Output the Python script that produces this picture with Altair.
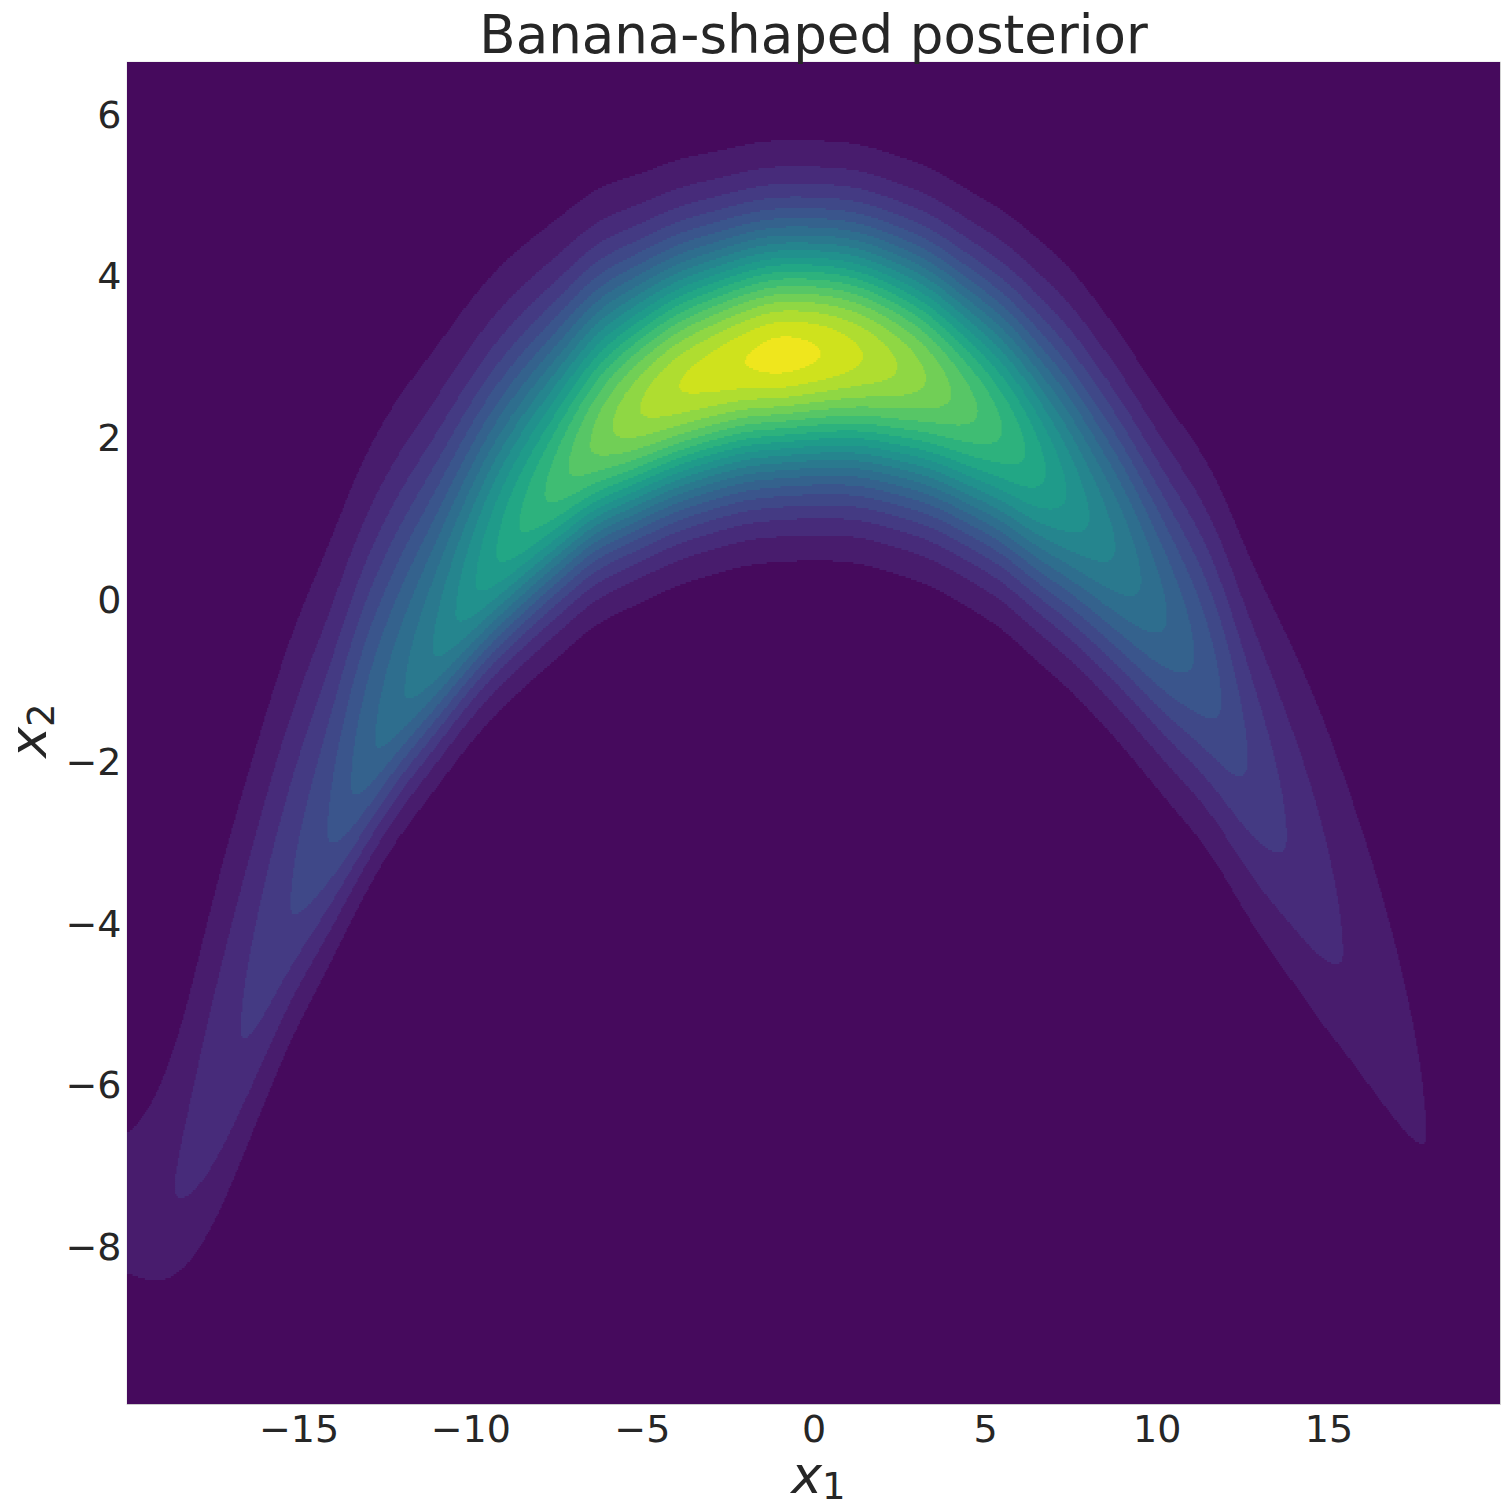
import numpy as np
import pandas as pd
import altair as alt

# ---- axis ranges ----
X1_MIN, X1_MAX = -20.0, 20.0
X2_MIN, X2_MAX = -9.92, 6.67
X_TICKS = [-15, -10, -5, 0, 5, 10, 15]
Y_TICKS = [-8, -6, -4, -2, 0, 2, 4, 6]
N_BANDS = 21  # filled contour bands (background + 20 levels)

# ---- apex of each filled band along the ridge ----
# level k: density there equals the k-th contour threshold
left_levels = [1.5, 1.75, 2, 3, 4, 5, 6, 7, 8, 9, 10, 11, 12, 13, 14, 15, 16, 17, 18, 19, 20]
left_x1 = [-20.5, -19.5, -18.5, -16.65, -15.2, -14.06, -13.5, -12.8, -11.9, -11.06, -10.4,
           -9.84, -9.26, -8.6, -7.8, -7.13, -6.5, -5.9, -5.1, -4.0, -1.95]
left_x2 = [-7.6, -7.7, -7.33, -5.25, -3.65, -2.82, -2.24, -1.74, -1.09, -0.6, -0.12,
           0.23, 0.6, 0.93, 1.35, 1.63, 2.0, 2.15, 2.37, 2.66, 2.99]
peak_x1, peak_x2, peak_level = -1.0, 3.05, 20.6
right_levels = [20, 19, 18, 17, 16, 15, 14, 13, 12, 11, 10, 9, 8, 7, 6, 5, 4, 3, 2, 1, 0.5]
right_x1 = [0.3, 1.46, 2.47, 3.3, 4.0, 4.8, 5.5, 6.2, 6.75, 7.37, 8.0, 8.8, 9.55, 10.28,
            11.1, 11.9, 12.58, 13.74, 15.37, 17.8, 19.5]
right_x2 = [3.08, 3.05, 2.9, 2.78, 2.58, 2.34, 2.16, 1.84, 1.59, 1.38, 1.05, 0.68, 0.27,
            -0.19, -0.63, -1.17, -1.93, -2.86, -4.26, -6.57, -8.0]

# ---- vertical spread of the band above / below the ridge ----
spread_x1 = [-20, -17.5, -15, -12.5, -10, -7.5, -5, -2.5, 0, 2.5, 5, 7.5, 10, 12.5, 15, 17.5, 20]
spread_up = [1.0, 1.9, 2.0, 1.9, 1.65, 1.4, 1.2, 1.1, 1.07, 1.08, 1.15, 1.3, 1.3, 1.5, 1.85, 2.0, 2.0]
spread_down = [0.6, 1.15, 1.0, 0.82, 0.86, 0.95, 1.0, 1.03, 1.045, 1.07, 1.07, 1.1, 1.15, 1.18, 1.1, 0.75, 0.75]

# ---- build the banded field on a grid ----
rx = np.array(left_x1 + [peak_x1] + right_x1)
rl = np.array(left_levels + [peak_level] + right_levels, dtype=float)
ry = np.array(left_x2 + [peak_x2] + right_x2)

NX, NY = 1000, 671
dx = (X1_MAX - X1_MIN) / NX
dy = (X2_MAX - X2_MIN) / NY
xc = X1_MIN + (np.arange(NX) + 0.5) * dx
yc = X2_MIN + (np.arange(NY) + 0.5) * dy


def smooth(v, sigma_units=0.5):
    half = int(4 * sigma_units / dx)
    k = np.exp(-0.5 * ((np.arange(-half, half + 1) * dx) / sigma_units) ** 2)
    k /= k.sum()
    return np.convolve(np.pad(v, half, mode="edge"), k, mode="valid")


L = smooth(np.interp(xc, rx, rl), 0.35)
R = smooth(np.interp(xc, rx, ry))
SU = smooth(np.interp(xc, spread_x1, spread_up))
SD = smooth(np.interp(xc, spread_x1, spread_down))

d = yc[:, None] - R[None, :]
s = np.where(d > 0, SU[None, :], SD[None, :])
F = L[None, :] * np.exp(-0.5 * (d / s) ** 2)
band = np.clip(np.floor(F), 0, N_BANDS - 1).astype(int)

rows = []
for j in range(NY):
    b = band[j]
    ch = np.flatnonzero(np.diff(b)) + 1
    starts = np.concatenate([[0], ch])
    ends = np.concatenate([ch, [NX]])
    y0 = X2_MIN + j * dy
    y1 = y0 + dy * 1.5
    for s0, e0 in zip(starts, ends):
        rows.append((X1_MIN + s0 * dx, X1_MIN + e0 * dx + 0.6 * dx, y0, y1, int(b[s0])))

df = pd.DataFrame(rows, columns=["x1", "x1_end", "x2", "x2_end", "band"])

TXT = "#262626"
field = (
    alt.Chart(df)
    .mark_rect(clip=True, strokeWidth=0)
    .encode(
        x=alt.X(
            "x1:Q",
            scale=alt.Scale(domain=[X1_MIN, X1_MAX], nice=False, zero=False),
            axis=alt.Axis(
                values=X_TICKS, title=None, grid=False, ticks=False, domain=False,
                labelFontSize=38, labelColor=TXT, labelPadding=7,
            ),
        ),
        x2="x1_end:Q",
        y=alt.Y(
            "x2:Q",
            scale=alt.Scale(domain=[X2_MIN, X2_MAX], nice=False, zero=False),
            axis=alt.Axis(
                values=Y_TICKS, title=None, grid=False, ticks=False, domain=False,
                labelFontSize=38, labelColor=TXT, labelPadding=6,
            ),
        ),
        y2="x2_end:Q",
        color=alt.Color(
            "band:Q",
            scale=alt.Scale(scheme="viridis", domain=[-0.5, N_BANDS - 0.5]),
            legend=None,
        ),
    )
)

# axis titles drawn as math-style text: italic x with an upright subscript
def label(txt, px, py, size, style, align, angle=0):
    return (
        alt.Chart(pd.DataFrame({"t": [txt]}))
        .mark_text(fontSize=size, fontStyle=style, color=TXT, align=align,
                   baseline="alphabetic", angle=angle)
        .encode(text="t:N", x=alt.value(px), y=alt.value(py))
    )

x_title = label("x", 695, 1431, 52, "italic", "right")
x_sub = label("1", 695, 1437, 37, "normal", "left")
y_title = label("x", -81, 665, 52, "italic", "right", 270)
y_sub = label("2", -73, 665, 37, "normal", "left", 270)

chart = (
    alt.layer(field, x_title, x_sub, y_title, y_sub)
    .properties(
        width=1373,
        height=1342,
        title=alt.TitleParams(
            "Banana-shaped posterior", fontSize=53, fontWeight="normal", color=TXT,
            anchor="middle", baseline="alphabetic", offset=7, dy=51,
        ),
        autosize=alt.AutoSizeParams(type="none"),
        padding={"left": 119, "top": 54, "right": 3, "bottom": 103},
    )
    .configure(font="DejaVu Sans")
    .configure_view(stroke="#cccccc", strokeWidth=1.2)
)

chart.save("out.html", embed_options={"renderer": "svg", "actions": False})
